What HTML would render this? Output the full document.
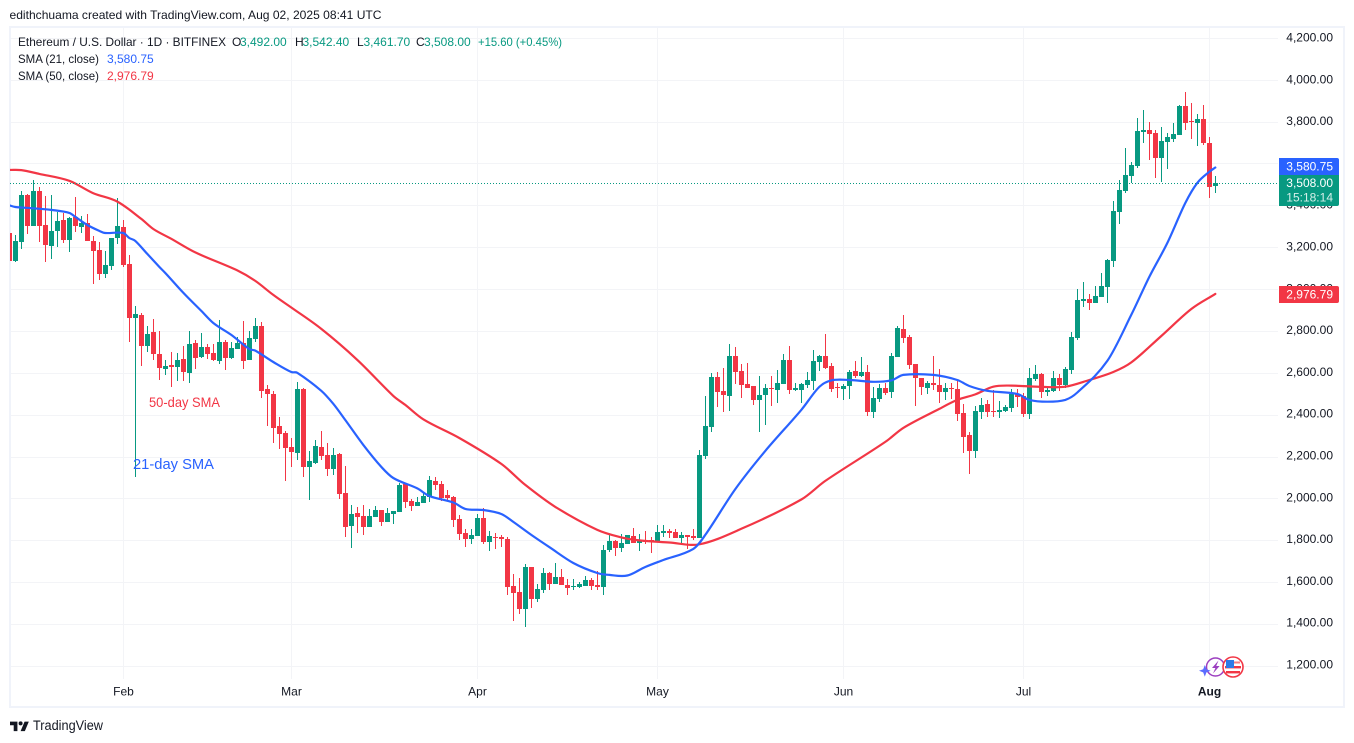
<!DOCTYPE html>
<html lang="en">
<head>
<meta charset="utf-8">
<title>Ethereum / U.S. Dollar chart</title>
<style>
html,body{margin:0;padding:0;background:#fff;width:1354px;height:743px;overflow:hidden}
svg{display:block;font-family:"Liberation Sans",sans-serif}
text{white-space:pre}
</style>
</head>
<body>
<svg id="chart" xmlns="http://www.w3.org/2000/svg" width="1354" height="743" viewBox="0 0 1354 743">
  <defs><clipPath id="plot-clip"><rect x="10" y="28" width="1268" height="652"/></clipPath></defs>
  <rect x="0" y="0" width="1354" height="743" fill="#ffffff"/>
  <text x="9.5" y="19" font-size="12" fill="#131722" textLength="372" lengthAdjust="spacingAndGlyphs">edithchuama created with TradingView.com, Aug 02, 2025 08:41 UTC</text>
  <rect x="10" y="27" width="1334" height="680" fill="none" stroke="#f0f3fa" stroke-width="2"/>
  <g id="grid"></g>
  <g id="candles" clip-path="url(#plot-clip)"></g>
  <g id="lines" clip-path="url(#plot-clip)"></g>
  <line x1="10" y1="183.5" x2="1278" y2="183.5" stroke="#089981" stroke-width="1" stroke-dasharray="1 2"/>
  <g id="y-axis"></g>
  <g id="x-axis"></g>

  <g font-size="12">
    <text x="18" y="46" fill="#131722" textLength="208" lengthAdjust="spacingAndGlyphs">Ethereum / U.S. Dollar · 1D · BITFINEX</text>
    <text x="232" y="46" fill="#131722">O</text>
    <text x="240" y="46" fill="#089981">3,492.00</text>
    <text x="295" y="46" fill="#131722">H</text>
    <text x="302.5" y="46" fill="#089981">3,542.40</text>
    <text x="357" y="46" fill="#131722">L</text>
    <text x="363.5" y="46" fill="#089981">3,461.70</text>
    <text x="416" y="46" fill="#131722">C</text>
    <text x="424" y="46" fill="#089981">3,508.00</text>
    <text x="478" y="46" fill="#089981" textLength="84" lengthAdjust="spacingAndGlyphs">+15.60 (+0.45%)</text>
    <text x="18" y="63" fill="#131722" textLength="81" lengthAdjust="spacingAndGlyphs">SMA (21, close)</text>
    <text x="107" y="63" fill="#2962ff">3,580.75</text>
    <text x="18" y="80" fill="#131722" textLength="81" lengthAdjust="spacingAndGlyphs">SMA (50, close)</text>
    <text x="107" y="80" fill="#f23645">2,976.79</text>
  </g>

  <text x="149" y="407" font-size="14" fill="#f23645" textLength="71" lengthAdjust="spacingAndGlyphs">50-day SMA</text>
  <text x="133" y="469" font-size="15" fill="#2962ff" textLength="81" lengthAdjust="spacingAndGlyphs">21-day SMA</text>

  <g font-size="12">
    <path d="M1279 158H1337a2 2 0 0 1 2 2V175H1279Z" fill="#2962ff"/>
    <text x="1333" y="170.5" text-anchor="end" fill="#ffffff">3,580.75</text>
    <path d="M1279 175H1339V204a2 2 0 0 1 -2 2H1279Z" fill="#089981"/>
    <text x="1333" y="187" text-anchor="end" fill="#ffffff">3,508.00</text>
    <text x="1333" y="201.5" text-anchor="end" fill="#d5efe9">15:18:14</text>
    <path d="M1279 286H1337a2 2 0 0 1 2 2V301a2 2 0 0 1 -2 2H1279Z" fill="#f23645"/>
    <text x="1333" y="298.5" text-anchor="end" fill="#ffffff">2,976.79</text>
  </g>

  <g>
    <circle cx="1215.5" cy="667" r="9" fill="#ffffff" fill-opacity="0.6" stroke="#9c3fc0" stroke-width="1.5"/>
    <path d="M1204.8 665L1206.4 669.2L1210.6 670.8L1206.4 672.4L1204.8 676.6L1203.2 672.4L1199 670.8L1203.2 669.2Z" fill="#5b6cff"/>
    <path d="M1218.5 660.5L1212 668H1215.4L1213 673.5L1219.6 666H1216.2Z" fill="#9c3fc0"/>
    <circle cx="1233" cy="667" r="10" fill="#ffffff" stroke="#f23645" stroke-width="1.6"/>
    <rect x="1226" y="661.5" width="14" height="2" fill="#f77c80"/>
    <rect x="1225" y="666" width="16" height="2.4" fill="#f23645"/>
    <rect x="1226" y="671" width="14" height="2.4" fill="#f23645"/>
    <rect x="1226" y="660" width="8" height="8" fill="#2f7be8"/>
  </g>

  <g>
    <path transform="translate(10 720) scale(0.53)" d="M14 21H7V10H0V3h14v18zM28 21h-8l7.5-18h8L28 21z" fill="#131722"/>
    <circle cx="20.6" cy="723.4" r="2" fill="#131722"/>
    <text x="33" y="730" font-size="13.5" fill="#131722" textLength="70" lengthAdjust="spacingAndGlyphs">TradingView</text>
  </g>
</svg>

<script>
// Daily OHLC, 13 Jan 2025 to 2 Aug 2025 (one line per month)
const opens = [
3268,3134,3227,3450,3303,3469,3306,3208,3278,3330,3235,3346,3297,3317,3231,3187,3072,3111,3243,
3297,3120,2864,2877,2730,2795,2690,2620,2638,2628,2666,2600,2743,2676,2724,2695,2657,2748,2671,2714,2743,2662,2762,2824,2523,2499,2346,2313,
2246,2217,2523,2151,2170,2246,2208,2141,2213,2026,1869,1931,1917,1864,1912,1945,1888,1926,1936,2069,1988,1964,1979,2007,2084,2069,2017,2007,1902,1835,1807,
1821,1907,1792,1816,1816,1807,1582,1554,1472,1673,1520,1563,1644,1592,1625,1587,1577,1577,1582,1611,1587,1577,1754,1797,1764,1783,1821,1788,1802,1802,
1792,1835,1845,1840,1812,1826,1821,1812,2203,2342,2580,2514,2490,2681,2609,2547,2537,2471,2494,2528,2518,2547,2662,2518,2518,2542,2561,2652,2681,2633,2533,
2523,2537,2609,2585,2604,2413,2475,2528,2509,2676,2810,2771,2643,2576,2528,2552,2542,2509,2528,2523,2408,2303,2227,2413,2452,2418,2413,2418,2432,2499,
2490,2404,2571,2595,2509,2514,2576,2542,2614,2767,2943,2953,2934,2963,3010,3134,3368,3469,3540,3588,3751,3760,3746,3626,3703,3717,3736,3875,3803,3794,3813,
3698,3492];
const highs = [
3292,3259,3469,3454,3521,3488,3445,3450,3370,3365,3346,3440,3349,3359,3255,3225,3182,3244,3435,
3330,3163,2920,2886,2824,2857,2800,2662,2700,2695,2728,2800,2757,2791,2738,2738,2853,2757,2748,2771,2848,2800,2862,2843,2542,2514,2389,2323,
2289,2557,2528,2227,2280,2323,2265,2241,2217,2155,1969,1959,1969,1950,1964,1945,1955,1941,2074,2074,1998,2007,2031,2108,2103,2084,2041,2012,1921,1854,1854,
1926,1955,1845,1835,1826,1816,1640,1620,1687,1673,1592,1668,1649,1692,1663,1616,1616,1601,1630,1620,1654,1778,1831,1802,1831,1826,1859,1831,1845,1816,
1874,1874,1854,1854,1840,1826,1854,2232,2490,2600,2604,2623,2738,2724,2643,2647,2537,2585,2547,2585,2614,2690,2728,2552,2552,2604,2709,2686,2786,2647,2552,
2547,2614,2657,2676,2638,2533,2547,2552,2695,2824,2877,2781,2643,2576,2561,2681,2619,2552,2552,2566,2452,2318,2442,2480,2471,2518,2466,2447,2523,2523,
2504,2623,2638,2600,2533,2609,2595,2628,2795,3001,3034,2977,3015,3077,3144,3421,3521,3674,3607,3817,3856,3798,3760,3774,3746,3794,3880,3942,3889,3837,3880,
3727,3542];
const lows = [
3130,3130,3193,3263,3303,3227,3131,3144,3203,3222,3179,3273,3270,3230,3025,3044,3055,3091,3216,
3107,2749,2104,2634,2701,2662,2566,2590,2534,2561,2561,2552,2619,2671,2666,2657,2643,2614,2666,2714,2619,2662,2748,2480,2346,2265,2237,2084,
2151,2184,2103,1993,2165,2184,2108,2112,1998,1816,1764,1835,1826,1864,1912,1869,1888,1878,1936,1955,1940,1964,1979,1983,2041,1988,1993,1864,1802,1768,1783,
1821,1783,1749,1759,1768,1539,1415,1449,1386,1477,1506,1549,1563,1592,1587,1539,1563,1573,1582,1563,1563,1539,1745,1726,1745,1783,1788,1749,1783,1740,
1792,1816,1812,1812,1783,1759,1802,1812,2189,2318,2437,2413,2418,2547,2480,2528,2447,2318,2351,2442,2456,2547,2499,2514,2456,2528,2518,2609,2619,2509,2480,
2471,2475,2576,2580,2394,2385,2461,2494,2480,2676,2743,2619,2442,2494,2499,2518,2456,2471,2475,2370,2217,2117,2194,2380,2389,2389,2385,2413,2413,2437,
2389,2380,2561,2480,2490,2509,2514,2528,2595,2757,2915,2900,2934,2963,2934,3106,3311,3459,3507,3579,3698,3617,3531,3512,3574,3703,3736,3760,3717,3684,3688,
3435,3461];
const closes = [
3134,3230,3450,3303,3469,3303,3211,3278,3326,3235,3341,3302,3317,3230,3182,3072,3115,3243,3302,
3115,2864,2881,2730,2786,2690,2623,2633,2630,2662,2604,2738,2671,2724,2690,2662,2748,2671,2719,2743,2657,2767,2824,2514,2499,2337,2308,2241,
2222,2523,2151,2179,2251,2203,2141,2208,2022,1864,1926,1912,1864,1917,1945,1888,1931,1940,2065,1983,1964,1983,2012,2089,2065,2003,2003,1897,1831,1807,1826,
1907,1792,1821,1812,1807,1577,1549,1472,1673,1520,1568,1644,1592,1625,1587,1573,1582,1592,1611,1582,1577,1754,1797,1764,1788,1826,1788,1802,1792,1792,
1840,1845,1835,1812,1826,1816,1812,2208,2346,2580,2509,2494,2681,2604,2542,2528,2471,2494,2528,2523,2552,2662,2518,2528,2547,2566,2657,2681,2623,2523,2528,
2537,2604,2585,2604,2413,2480,2528,2504,2681,2814,2767,2638,2576,2533,2552,2542,2509,2528,2523,2404,2294,2227,2418,2447,2413,2413,2423,2437,2499,2485,
2404,2576,2595,2509,2518,2576,2542,2619,2771,2948,2953,2934,2967,3015,3139,3373,3474,3545,3593,3755,3760,3741,3626,3708,3727,3741,3875,3794,3798,3813,3698,
3488,3508];

// SMA readings: day number (0 = 13 Jan) and value
const sma21Days = [0,1,4,7,10,11,13,15,16,19,20,21,23,25,26,29,32,34,37,40,41,44,47,48,52,54,56,59,62,64,68,70,74,76,79,82,84,87,90,94,98,100,103,106,109,114,116,121,126,132,135,137,140,144,147,149,154,158,160,163,168,170,173,176,178,183,187,190,193,196,198,200,201];
const sma21Values = [3400,3392,3386,3378,3364,3345,3306,3278,3268,3268,3244,3230,3168,3106,3077,2982,2896,2838,2781,2714,2706,2652,2604,2600,2514,2452,2375,2256,2151,2098,2048,2012,1981,1950,1945,1926,1888,1826,1768,1692,1644,1635,1632,1673,1706,1759,1826,2045,2227,2423,2533,2564,2566,2557,2564,2590,2590,2566,2537,2514,2499,2471,2462,2471,2506,2657,2877,3058,3220,3411,3507,3560,3580.75];
const sma50Days = [0,2,5,10,14,18,22,24,27,31,38,41,44,47,52,58,64,66,69,75,82,86,91,98,102,105,110,115,122,132,136,146,149,155,158,161,164,167,172,176,180,184,187,192,197,201];
const sma50Values = [3569,3568,3550,3517,3458,3418,3335,3287,3240,3175,3089,3039,2972,2912,2810,2662,2490,2447,2378,2289,2165,2065,1960,1850,1814,1800,1790,1781,1855,1995,2084,2270,2337,2428,2471,2497,2534,2539,2533,2534,2566,2604,2650,2776,2905,2976.79];

// Axis data
const priceTicks = [1200,1400,1600,1800,2000,2200,2400,2600,2800,3000,3200,3400,3600,3800,4000,4200];
const monthLabels = ['Feb','Mar','Apr','May','Jun','Jul','Aug'];
const monthDays = [19,47,78,108,139,169,200];

const UP_COLOR = '#089981';
const DOWN_COLOR = '#f23645';
const SVG_NS = 'http://www.w3.org/2000/svg';

function xScale(day) { return 9.3 + day * 6; }
function yScale(price) { return 666 - (price - 1200) * 0.2094; }
function yLabel(price) { return 668.5 - (price - 1200) * 0.209; }

function make(tag, attrs, parent) {
  const el = document.createElementNS(SVG_NS, tag);
  for (const k in attrs) el.setAttribute(k, attrs[k]);
  parent.appendChild(el);
  return el;
}

const gridGroup = document.getElementById('grid');
const yAxisGroup = document.getElementById('y-axis');
const xAxisGroup = document.getElementById('x-axis');
const candleGroup = document.getElementById('candles');
const lineGroup = document.getElementById('lines');

priceTicks.forEach(function (tick) {
  const y = Math.round(yScale(tick)) + 0.5;
  const grid = make('line', {x1: 11, x2: 1278, y1: y, y2: y, stroke: '#f3f4f7', 'stroke-width': 1}, gridGroup);
  
  
  const label = make('text', {x: 1333, y: yLabel(tick), 'text-anchor': 'end', 'font-size': 12, fill: '#131722'}, yAxisGroup);
  
  
  label.textContent = tick.toLocaleString('en-US', {minimumFractionDigits: 2, maximumFractionDigits: 2});
});

monthDays.forEach(function (day, i) {
  const x = Math.floor(xScale(day)) + 0.5;
  const grid = make('line', {x1: x, x2: x, y1: 28, y2: 679, stroke: '#f3f4f7', 'stroke-width': 1}, gridGroup);
  
  
  const isAug = monthLabels[i] === 'Aug';
  const label = make('text', {x: x, y: 695.5, 'text-anchor': 'middle', 'font-size': 12, fill: '#131722', 'font-weight': isAug ? 'bold' : 'normal'}, xAxisGroup);
  
  
  label.textContent = monthLabels[i];
});

closes.forEach(function (close, i) {
  const open = opens[i];
  const color = close >= open ? UP_COLOR : DOWN_COLOR;
  const cx = Math.floor(xScale(i));
  const top = Math.round(yScale(Math.max(open, close)));
  const bottom = Math.round(yScale(Math.min(open, close)));
  const wickTop = Math.round(yScale(highs[i]));
  const wickBottom = Math.round(yScale(lows[i]));
  const wick = make('rect', {x: cx, y: wickTop, width: 1, height: Math.max(1, wickBottom - wickTop), fill: color}, candleGroup);
  
  
  const body = make('rect', {x: cx - 2, y: top, width: 5, height: Math.max(1, bottom - top), fill: color}, candleGroup);
  
  
});

// Smooth curve through the readings (the source line is a daily series, so it has no visible corners)
function linePath(days, values) {
  const pts = days.map(function (d, i) { return [xScale(d), yScale(values[i])]; });
  let d = 'M' + pts[0][0].toFixed(1) + ' ' + pts[0][1].toFixed(1);
  for (let i = 0; i < pts.length - 1; i++) {
    const p0 = pts[Math.max(0, i - 1)];
    const p1 = pts[i];
    const p2 = pts[i + 1];
    const p3 = pts[Math.min(pts.length - 1, i + 2)];
    const span = p2[0] - p1[0];
    const m1 = (p2[1] - p0[1]) / (p2[0] - p0[0]);
    const m2 = (p3[1] - p1[1]) / (p3[0] - p1[0]);
    d += 'C' + (p1[0] + span / 3).toFixed(1) + ' ' + (p1[1] + m1 * span / 3).toFixed(1) + ' ' +
         (p2[0] - span / 3).toFixed(1) + ' ' + (p2[1] - m2 * span / 3).toFixed(1) + ' ' +
         p2[0].toFixed(1) + ' ' + p2[1].toFixed(1);
  }
  return d;
}

const sma50Line = make('path', {d: linePath(sma50Days, sma50Values), fill: 'none', stroke: '#f23645', 'stroke-width': 2.2, 'stroke-linejoin': 'round', 'stroke-linecap': 'round'}, lineGroup);



const sma21Line = make('path', {d: linePath(sma21Days, sma21Values), fill: 'none', stroke: '#2962ff', 'stroke-width': 2.2, 'stroke-linejoin': 'round', 'stroke-linecap': 'round'}, lineGroup);


</script>
</body>
</html>
